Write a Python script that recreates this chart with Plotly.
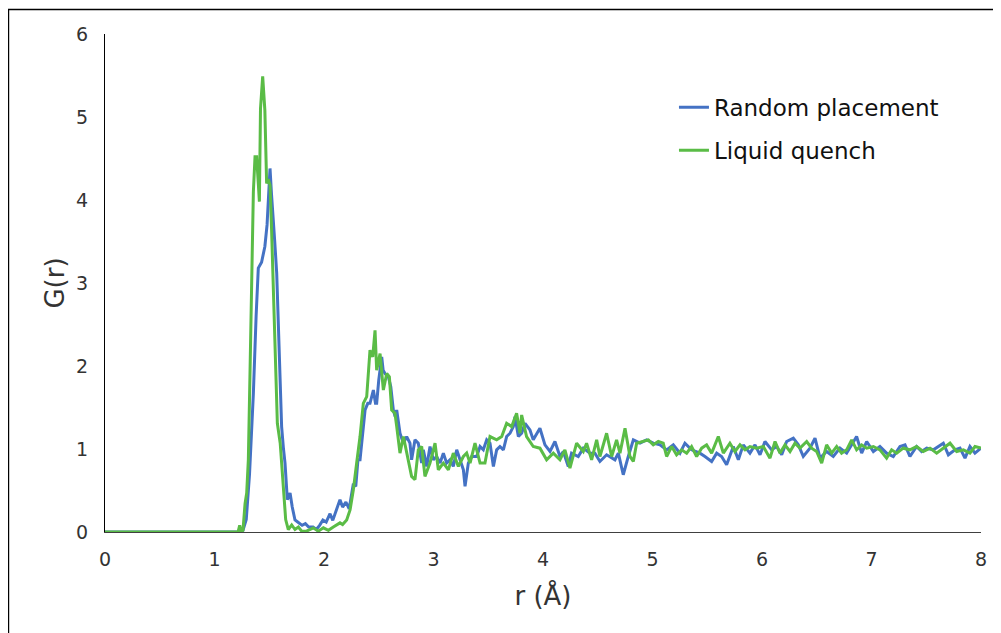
import plotly.graph_objects as go

# Random placement series
r_random = [0, 1.22, 1.26, 1.29, 1.32, 1.355, 1.38, 1.40, 1.43, 1.46, 1.48, 1.49, 1.507, 1.52, 1.537, 1.55, 1.568,
            1.59, 1.613, 1.63, 1.644, 1.665, 1.69, 1.71, 1.735, 1.76, 1.78, 1.80, 1.83, 1.86, 1.90, 1.93, 1.96,
            1.99, 2.02, 2.055, 2.08, 2.11, 2.146, 2.17, 2.20, 2.23, 2.268, 2.29, 2.31, 2.329, 2.35, 2.375, 2.40,
            2.42, 2.451, 2.47, 2.481, 2.50, 2.527, 2.54, 2.557, 2.588, 2.61, 2.633, 2.65, 2.664, 2.694, 2.725,
            2.755, 2.785, 2.80, 2.831, 2.861, 2.892, 2.907, 2.938, 2.968, 2.999, 3.029, 3.06, 3.09, 3.12, 3.151,
            3.181, 3.212, 3.242, 3.273, 3.288, 3.318, 3.349, 3.394, 3.425, 3.455, 3.486, 3.516, 3.547, 3.577,
            3.607, 3.638, 3.668, 3.699, 3.729, 3.744, 3.775, 3.805, 3.836, 3.881, 3.911, 3.972, 4.018, 4.064,
            4.109, 4.155, 4.185, 4.231, 4.261, 4.322, 4.368, 4.429, 4.474, 4.52, 4.581, 4.657, 4.688, 4.733,
            4.779, 4.825, 4.886, 4.946, 5.007, 5.068, 5.129, 5.19, 5.251, 5.296, 5.357, 5.433, 5.479, 5.54,
            5.586, 5.631, 5.677, 5.738, 5.784, 5.829, 5.89, 5.936, 5.982, 6.027, 6.088, 6.134, 6.18, 6.225,
            6.286, 6.332, 6.377, 6.438, 6.484, 6.53, 6.59, 6.651, 6.712, 6.773, 6.864, 6.91, 6.956, 7.017,
            7.077, 7.138, 7.199, 7.26, 7.306, 7.351, 7.412, 7.458, 7.504, 7.565, 7.656, 7.702, 7.762, 7.808,
            7.854, 7.899, 7.945, 8.0]
g_random = [0, 0, 0.02, 0.15, 0.7, 1.67, 2.6, 3.18, 3.25, 3.44, 3.7, 4.0, 4.38, 4.08, 3.68, 3.5, 3.12,
            2.2, 1.27, 1.0, 0.83, 0.39, 0.47, 0.3, 0.145, 0.12, 0.10, 0.08, 0.1, 0.06, 0.06, 0.03, 0.08,
            0.145, 0.12, 0.22, 0.14, 0.25, 0.39, 0.30, 0.36, 0.28, 0.58, 0.55, 0.87, 0.87, 1.19, 1.47, 1.55,
            1.55, 1.71, 1.55, 1.55, 1.83, 2.11, 1.95, 1.91, 1.87, 1.75, 1.47, 1.39, 1.47, 1.19, 1.07,
            1.15, 1.07, 0.87, 1.11, 1.07, 0.83, 0.99, 0.79, 1.03, 0.87, 0.91, 0.83, 0.95, 0.83, 0.87,
            0.79, 0.99, 0.87, 0.75, 0.55, 0.83, 0.91, 0.91, 1.03, 0.99, 1.11, 1.07, 0.79, 0.99,
            1.03, 0.99, 1.15, 1.19, 1.27, 1.39, 1.15, 1.19, 1.31, 1.23, 1.11, 1.25, 1.05, 0.97,
            1.09, 0.91, 0.97, 0.79, 0.95, 0.91, 1.01, 0.95, 0.95, 0.85, 0.93, 0.87, 0.95, 0.69,
            0.91, 1.11, 1.07, 1.11, 1.07, 1.05, 0.99, 1.05, 0.95, 1.07, 0.99, 0.95, 0.91, 0.85,
            0.95, 0.91, 0.81, 1.03, 0.87, 1.05, 0.95, 1.05, 0.93, 1.09, 0.99, 1.03, 0.93, 1.09,
            1.13, 1.05, 0.91, 1.01, 1.13, 0.89, 0.97, 0.91, 1.01, 0.95, 1.15, 0.95, 1.09, 0.97,
            1.03, 0.95, 0.91, 1.03, 1.05, 0.91, 1.03, 0.97, 1.01, 0.99, 1.07, 0.93, 0.99, 1.01,
            0.89, 1.03, 0.95, 1.01]

# Liquid quench series
r_quench = [0, 1.215, 1.23, 1.245, 1.26, 1.279, 1.294, 1.309, 1.324, 1.34, 1.355, 1.37, 1.385, 1.40, 1.41,
            1.42, 1.44, 1.46, 1.476, 1.49, 1.507, 1.52, 1.537, 1.56, 1.574, 1.60, 1.629, 1.65, 1.674, 1.705,
            1.735, 1.766, 1.796, 1.84, 1.903, 1.948, 1.994, 2.04, 2.085, 2.146, 2.17, 2.207, 2.238, 2.268,
            2.298, 2.329, 2.359, 2.39, 2.42, 2.445, 2.466, 2.481, 2.512, 2.542, 2.573, 2.597, 2.618, 2.648,
            2.664, 2.694, 2.725, 2.755, 2.8, 2.831, 2.861, 2.892, 2.922, 2.968, 3.014, 3.044, 3.09, 3.136,
            3.181, 3.227, 3.273, 3.303, 3.334, 3.379, 3.425, 3.47, 3.516, 3.577, 3.623, 3.668, 3.714, 3.759,
            3.79, 3.805, 3.85, 3.911, 3.972, 4.033, 4.094, 4.155, 4.2, 4.246, 4.307, 4.368, 4.398, 4.444,
            4.49, 4.52, 4.581, 4.627, 4.672, 4.703, 4.749, 4.794, 4.825, 4.855, 4.916, 4.962, 5.007, 5.053,
            5.098, 5.129, 5.175, 5.22, 5.266, 5.312, 5.357, 5.403, 5.449, 5.494, 5.54, 5.601, 5.647, 5.707,
            5.753, 5.799, 5.845, 5.89, 5.951, 6.012, 6.073, 6.119, 6.164, 6.21, 6.256, 6.301, 6.347, 6.408,
            6.453, 6.499, 6.545, 6.59, 6.636, 6.682, 6.727, 6.773, 6.819, 6.864, 6.91, 6.956, 7.017, 7.077,
            7.138, 7.184, 7.23, 7.29, 7.351, 7.412, 7.473, 7.534, 7.595, 7.656, 7.717, 7.778, 7.839, 7.899,
            7.945, 8.0]
g_quench = [0, 0, 0.08, 0.0, 0.02, 0.34, 0.47, 0.87, 1.9, 3.2, 4.1, 4.52, 4.52, 4.2, 3.98,
            5.1, 5.49, 5.08, 4.20, 4.25, 4.18, 3.7, 2.88, 1.67, 1.31, 1.07, 0.47, 0.15, 0.03, 0.085,
            0.03, 0.06, 0.01, 0.01, 0.05, 0.01, 0.05, 0.02, 0.06, 0.11, 0.09, 0.145, 0.265, 0.51,
            0.83, 1.15, 1.55, 1.63, 2.19, 2.11, 2.43, 1.95, 2.15, 1.71, 1.91, 1.87, 1.47, 1.43,
            1.27, 0.95, 1.15, 0.95, 0.67, 0.63, 0.99, 1.03, 0.67, 0.83, 1.07, 0.75, 0.83, 0.75,
            0.95, 0.79, 0.91, 0.95, 0.83, 1.07, 0.83, 0.83, 1.15, 1.11, 1.15, 1.31, 1.27, 1.43,
            1.19, 1.41, 1.15, 1.03, 1.01, 0.87, 0.95, 0.87, 0.99, 0.77, 1.07, 0.97, 1.07, 0.87,
            1.11, 0.91, 1.19, 0.91, 1.11, 0.95, 1.25, 0.91, 0.85, 1.07, 1.09, 1.11, 1.05, 1.09,
            1.07, 0.91, 1.03, 0.93, 0.99, 0.95, 1.03, 0.91, 1.01, 1.05, 0.95, 1.15, 0.95, 1.07,
            0.97, 1.05, 0.99, 1.03, 1.01, 1.03, 0.89, 1.09, 0.95, 1.05, 0.97, 1.07, 1.01, 1.09,
            1.01, 0.97, 0.83, 1.05, 0.95, 1.03, 0.95, 0.99, 1.11, 0.99, 1.05, 1.01, 1.03, 0.99,
            0.89, 0.99, 0.95, 1.01, 0.99, 1.03, 0.97, 1.01, 0.95, 1.01, 1.07, 0.97, 0.99, 0.95,
            1.03, 1.01]

x_ticks = [0, 1, 2, 3, 4, 5, 6, 7, 8]
y_ticks = [0, 1, 2, 3, 4, 5, 6]

FONT = "DejaVu Sans"
fig = go.Figure()
fig.add_trace(go.Scatter(x=r_random, y=g_random, mode="lines", name="Random placement",
                         legendgroup="a", line=dict(color="#4472C4", width=3)))
fig.add_trace(go.Scatter(x=r_quench, y=g_quench, mode="lines", name="Liquid quench",
                         legendgroup="b", line=dict(color="#5ABC46", width=3)))

fig.update_layout(
    width=993, height=625,
    margin=dict(l=97, r=20, t=26, b=101),
    paper_bgcolor="white", plot_bgcolor="white",
    font=dict(family=FONT, color="#333333"),
    showlegend=True,
    legend=dict(x=0.6495, y=0.896, xanchor="left", yanchor="top",
                font=dict(family=FONT, size=23, color="#111111"),
                bgcolor="rgba(0,0,0,0)", traceorder="grouped", tracegroupgap=10),
    xaxis=dict(range=[0, 8], tickvals=x_ticks, showgrid=False, zeroline=False,
               showline=True, linecolor="#404040", linewidth=1,
               ticks="outside", ticklen=10, tickcolor="rgba(0,0,0,0)",
               tickfont=dict(family=FONT, size=19, color="#333333"),
               title=dict(text="r (Å)", font=dict(family=FONT, size=26, color="#333333"), standoff=18)),
    yaxis=dict(range=[0, 6], tickvals=y_ticks, showgrid=False, zeroline=False,
               showline=True, linecolor="#000000", linewidth=1,
               ticks="outside", ticklen=12, tickcolor="rgba(0,0,0,0)",
               tickfont=dict(family=FONT, size=19, color="#333333"),
               title=dict(text="G(r)", font=dict(family=FONT, size=26, color="#333333"), standoff=4)),
    shapes=[dict(type="rect", xref="paper", yref="paper",
                 x0=-0.1102, x1=1.05, y0=-0.3, y1=1.0492,
                 line=dict(color="#000000", width=1.5), fillcolor="rgba(0,0,0,0)", layer="below")],
)

fig.write_html("out.html")
